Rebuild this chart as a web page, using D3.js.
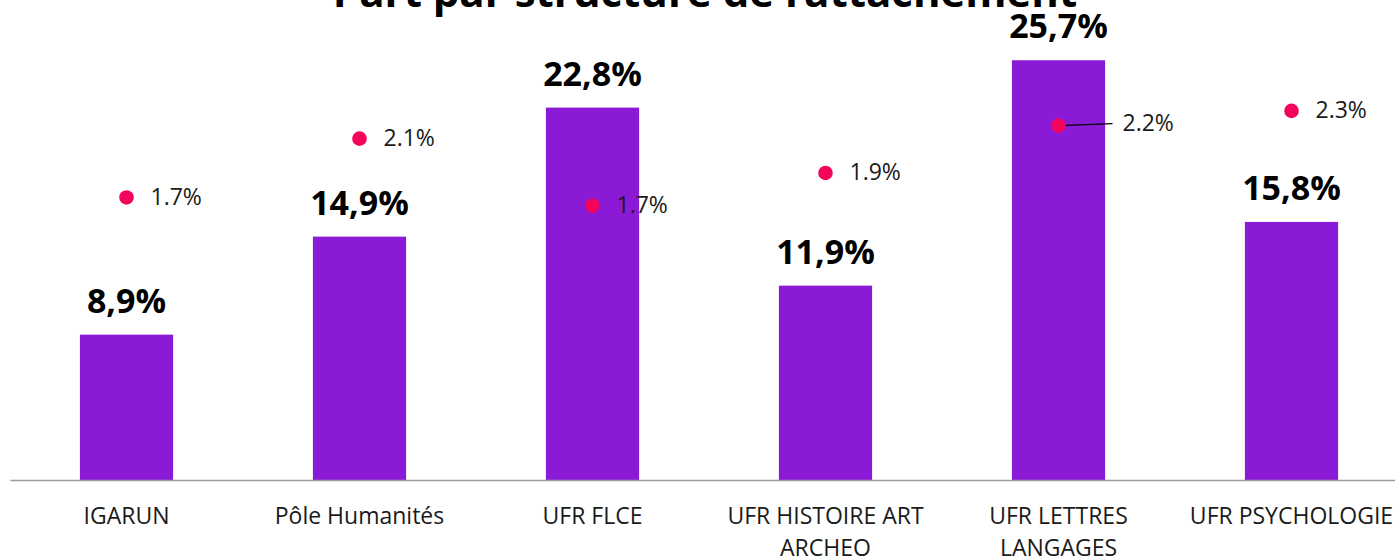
<!DOCTYPE html>
<html lang="fr">
<head>
	<meta charset="utf-8">
		<title>Part par structure de rattachement</title>
		<script type="text/javascript" src="https://d3js.org/d3.v7.min.js"></script>

		<style type="text/css">
			body { margin: 0; background: #fff; }
			text { font-family: "Open Sans", sans-serif; }
		</style>
</head>
<body>
	<script type="text/javascript">

        var categories = ["IGARUN", "Pôle Humanités", "UFR FLCE", "UFR HISTOIRE ART ARCHEO", "UFR LETTRES LANGAGES", "UFR PSYCHOLOGIE"];
        var shares = [8.9, 14.9, 22.8, 11.9, 25.7, 15.8];      // bars, %
        var rates = [1.73, 2.09, 1.68, 1.88, 2.17, 2.26];       // dots, %
        var title = "Part par structure de rattachement";

        var width = 1395, height = 560;
        var baseY = 480;

        var svg = d3.select("body")
            .append("svg")
            .attr("width", width)
            .attr("height", height);

        var x = d3.scaleBand()
            .domain(categories)
            .range([10, 1408])
            .paddingInner(0.6)
            .paddingOuter(0.3);

        var y = d3.scaleLinear().domain([0, 30]).range([baseY, -10]);
        var y2 = d3.scaleLinear().domain([0, 3]).range([baseY, -10]);

        // bars
        svg.selectAll(".bar")
            .data(shares)
            .enter()
            .append("rect")
            .attr("class", "bar")
            .attr("x", function(d, i) { return x(categories[i]); })
            .attr("y", function(d) { return y(d); })
            .attr("width", x.bandwidth())
            .attr("height", function(d) { return baseY - y(d); })
            .style("fill", "#8a1ad5");

        svg.selectAll(".barlabel")
            .data(shares)
            .enter()
            .append("text")
            .attr("class", "barlabel")
            .attr("x", function(d, i) { return x(categories[i]) + x.bandwidth() / 2; })
            .attr("y", function(d) { return y(d) - 22; })
            .style("text-anchor", "middle")
            .attr("font-size", "34px")
            .attr("font-weight", "bold")
            .attr("fill", "#000")
            .text(function(d) { return d.toFixed(1).replace(".", ",") + "%"; });

        // x axis
        var xAxis = svg.append("g")
            .attr("transform", "translate(0," + baseY + ")")
            .call(d3.axisBottom(x).tickSize(0).tickPadding(0));
        xAxis.select(".domain").attr("stroke", "#9a9a9a").attr("stroke-width", 1.5);
        xAxis.selectAll(".tick text").remove();

        xAxis.selectAll(".tick")
            .append("text")
            .attr("y", 44)
            .style("text-anchor", "middle")
            .attr("font-size", "23px")
            .attr("fill", "#1a1a1a")
            .each(function(d) {
                var el = d3.select(this);
                var words = d.split(" ");
                var line = [], lines = [];
                words.forEach(function(w) {
                    line.push(w);
                    el.text(line.join(" "));
                    if (this.getComputedTextLength() > x.step() - 10 && line.length > 1) {
                        line.pop();
                        lines.push(line.join(" "));
                        line = [w];
                    }
                }, this);
                lines.push(line.join(" "));
                el.text(null);
                lines.forEach(function(l, k) {
                    el.append("tspan")
                        .attr("x", 0)
                        .attr("dy", k === 0 ? 0 : 32)
                        .text(l);
                });
            });

        // dots (second scale)
        var dotX = function(i) { return x(categories[i]) + x.bandwidth() / 2; };
        var labelShift = function(i) { return i === 4 ? 40 : 0; };

        svg.selectAll(".leader")
            .data(rates.filter(function(d, i) { return labelShift(i) > 0; }))
            .enter()
            .append("line")
            .attr("x1", function(d) { return dotX(rates.indexOf(d)); })
            .attr("y1", function(d) { return y2(d); })
            .attr("x2", function(d) { return dotX(rates.indexOf(d)) + 14 + labelShift(rates.indexOf(d)); })
            .attr("y2", function(d) { return y2(d) - 2; })
            .attr("stroke", "#000")
            .attr("stroke-width", 1.2);

        svg.selectAll(".dot")
            .data(rates)
            .enter()
            .append("circle")
            .attr("class", "dot")
            .attr("cx", function(d, i) { return dotX(i); })
            .attr("cy", function(d) { return y2(d); })
            .attr("r", 7.3)
            .style("fill", "#f3055c");

        svg.selectAll(".dotlabel")
            .data(rates)
            .enter()
            .append("text")
            .attr("class", "dotlabel")
            .attr("x", function(d, i) { return dotX(i) + 24 + labelShift(i); })
            .attr("y", function(d, i) { return y2(d) + 7.5 - (labelShift(i) ? 2 : 0); })
            .attr("font-size", "23px")
            .attr("fill", "#1a1a1a")
            .text(function(d) { return d.toFixed(1) + "%"; });

        // title, mostly cut off by the top edge
        svg.append("text")
            .attr("x", 705)
            .attr("y", 7)
            .style("text-anchor", "middle")
            .attr("font-size", "42px")
            .attr("font-weight", "bold")
            .attr("fill", "#000")
            .text(title);

	</script>
</body>
</html>
